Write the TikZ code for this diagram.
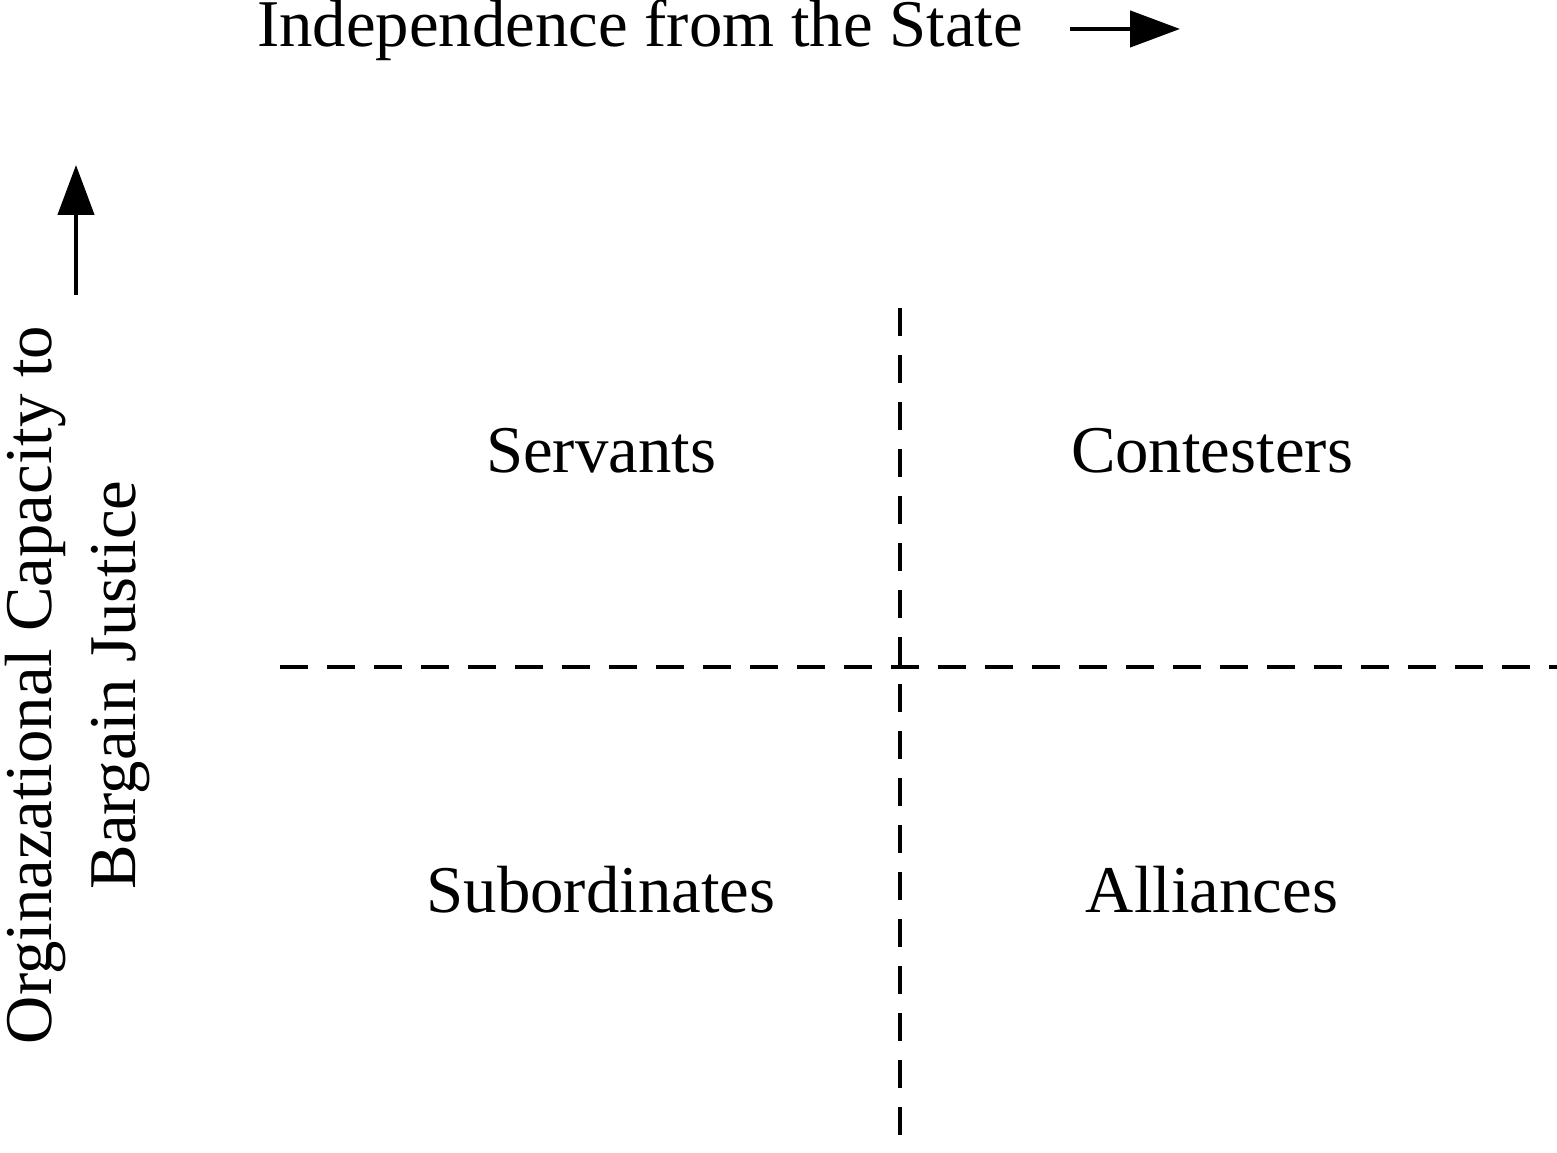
\documentclass[tikz,border=0pt]{standalone}
\usepackage{fontspec}
\setmainfont{Liberation Serif}
\usetikzlibrary{arrows.meta}

\begin{document}
\begin{tikzpicture}[node distance=6.11cm, auto,
    quad/.style={font=\fontsize{19}{23}\selectfont, text height=0.45cm, text depth=0.1cm, inner sep=0pt},
    axislabel/.style={font=\fontsize{19}{23}\selectfont, inner sep=0pt},
    divider/.style={dash pattern=on 0.28cm off 0.19cm, line width=1.2pt},
    pointer/.style={-{Triangle[length=0.5cm,width=0.36cm]}, line width=1.3pt, fill=black!85}]
    \useasboundingbox (0,0) rectangle (15.57,11.53);

    % Define nodes
    \node (xlab) [axislabel, anchor=base] at (6.40,11.06) {Independence from the State};
    \node (ylabA) [axislabel, anchor=base, rotate=90] at (0.52,4.68) {Orginazational Capacity to};
    \node (ylabB) [axislabel, anchor=base, rotate=90] at (1.35,4.68) {Bargain Justice};

    \node (SV) [quad] at (6.01,6.975) {Servants};
    \node (CT) [quad, right of=SV] {Contesters};
    \node (SB) [quad, below of=SV, node distance=4.40cm] {Subordinates};
    \node (AL) [quad, below of=CT, node distance=4.40cm] {Alliances};

    % Axis arrows
    \coordinate (xtail) at (10.70,11.24);
    \coordinate (xhead) at (11.80,11.24);
    \coordinate (ytail) at (0.76,8.58);
    \coordinate (yhead) at (0.76,9.88);
    \draw[pointer] (xtail) -- (xhead);
    \draw[pointer] (ytail) -- (yhead);

    % Quadrant dividers
    \coordinate (vtop) at (9.00,8.45);
    \coordinate (vbot) at (9.00,0);
    \coordinate (hleft) at (2.80,4.86);
    \coordinate (hright) at (15.57,4.86);
    \draw[divider] (vtop) -- (vbot);
    \draw[divider] (hleft) -- (hright);
\end{tikzpicture}
\end{document}
